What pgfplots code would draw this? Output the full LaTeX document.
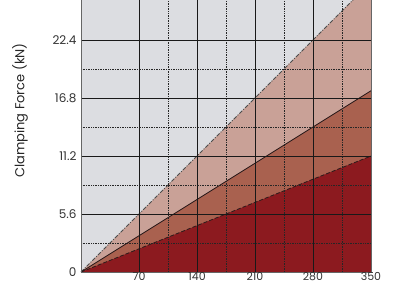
\documentclass[border=0pt]{standalone}
\usepackage{pgfplots}
\pgfplotsset{compat=1.18}
\usepackage{fontspec}
\setmainfont{Poppins}
\definecolor{bggray}{HTML}{DCDDE1}
\definecolor{bandA}{HTML}{C9A197}
\definecolor{bandB}{HTML}{A9614F}
\definecolor{bandC}{HTML}{8C1A1F}
\definecolor{linec}{HTML}{2A1A1A}
\begin{document}
\begin{tikzpicture}
\begin{axis}[
  at={(0,0)}, anchor=south west,
  scale only axis, width=290pt, height=290pt,
  xmin=0, xmax=350, ymin=0, ymax=28,
  xtick={70,140,210,280,350},
  ytick={0,5.6,11.2,16.8,22.4},
  yticklabels={0,5.6,11.2,16.8,22.4},
  xticklabels={70,140,210,280,350},
  minor x tick num=1, minor y tick num=1,
  grid=both,
  major grid style={black!90, line width=0.8pt},
  minor grid style={black!85, line width=0.8pt, dash pattern=on 0.8pt off 0.9pt},
  major tick length=0pt, minor tick length=0pt,
  axis background/.style={fill=bggray},
  axis on top,
  axis line style={black!60, line width=0.6pt},
  tick label style={font=\fontsize{12}{14}\selectfont, text=black!80},
  /pgf/number format/assume math mode=true,
  yticklabel style={xshift=-1pt},
  xticklabel style={font=\fontsize{11}{13}\selectfont, inner sep=0pt, text height=7.8pt, text depth=0pt, anchor=north, yshift=-0.8pt},
  ylabel={Clamping Force (kN)},
  ylabel style={font=\fontsize{13}{15}\selectfont, text=black!85, at={(axis description cs:-0.21,0.557)}, anchor=center},
]
\addplot[fill=bandA, draw=none] coordinates {(0,0) (350,28)} \closedcycle;
\addplot[fill=bandB, draw=none] coordinates {(0,0) (350,17.5)} \closedcycle;
\addplot[fill=bandC, draw=none] coordinates {(0,0) (350,11.2)} \closedcycle;
\addplot[black!70, line width=0.8pt, dash pattern=on 4pt off 1.5pt on 1pt off 1.5pt] coordinates {(0,0) (350,28)};
\addplot[linec, line width=0.8pt] coordinates {(0,0) (350,17.5)};
\addplot[linec, line width=0.8pt, dash pattern=on 4pt off 2pt] coordinates {(0,0) (350,11.2)};
\end{axis}
\pgfresetboundingbox
\useasboundingbox (-81pt,-12pt) rectangle (319pt,272pt);
\end{tikzpicture}
\end{document}
